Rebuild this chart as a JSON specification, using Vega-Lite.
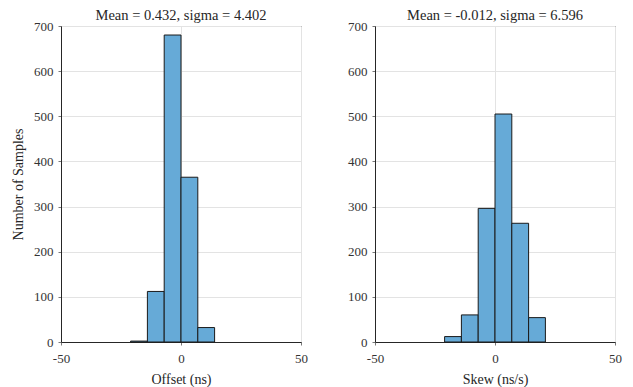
{
  "$schema": "https://vega.github.io/schema/vega-lite/v6.json",
  "background": "white",
  "padding": {"left": 11, "top": 7, "right": 5, "bottom": 5},
  "datasets": {
    "offset": [
      {"start": -21, "end": -14, "count": 2},
      {"start": -14, "end": -7, "count": 112},
      {"start": -7, "end": 0, "count": 680},
      {"start": 0, "end": 7, "count": 365},
      {"start": 7, "end": 14, "count": 32}
    ],
    "skew": [
      {"start": -21, "end": -14, "count": 12},
      {"start": -14, "end": -7, "count": 60},
      {"start": -7, "end": 0, "count": 296},
      {"start": 0, "end": 7, "count": 505},
      {"start": 7, "end": 14, "count": 263},
      {"start": 14, "end": 21, "count": 54}
    ]
  },
  "config": {
    "font": "Liberation Serif",
    "view": {"stroke": "#262626", "strokeWidth": 1},
    "title": {"font": "Liberation Serif", "fontSize": 14.5, "fontWeight": "normal", "color": "#262626", "offset": -3},
    "axis": {
      "labelFont": "Liberation Serif", "labelFontSize": 13, "labelColor": "#333333", "labelFlush": false,
      "titleFont": "Liberation Serif", "titleFontSize": 14, "titleFontWeight": "normal", "titleColor": "#262626",
      "domainColor": "#262626", "tickColor": "#777777", "tickSize": 3,
      "gridColor": "#e3e3e3", "gridWidth": 1,
      "labelExpr": "replace(datum.label, '\u2212', '-')"
    }
  },
  "hconcat": [
    {
      "data": {"name": "offset"},
      "width": 240, "height": 316,
      "title": "Mean = 0.432, sigma = 4.402",
      "mark": {"type": "bar", "color": "#66aad7", "stroke": "#1a1a1a", "strokeWidth": 1},
      "encoding": {
        "x": {"field": "start", "type": "quantitative", "scale": {"domain": [-50, 50], "nice": false},
              "axis": {"values": [-50, 0, 50], "title": "Offset (ns)", "labelFont": "Liberation Serif", "titleFont": "Liberation Serif", "labelPadding": 7, "titlePadding": 7}},
        "x2": {"field": "end"},
        "y": {"field": "count", "type": "quantitative", "scale": {"domain": [0, 700], "nice": false},
              "axis": {"values": [0, 100, 200, 300, 400, 500, 600, 700], "title": "Number of Samples", "labelFont": "Liberation Serif", "titleFont": "Liberation Serif", "labelPadding": 5, "titlePadding": 8}},
        "y2": {"datum": 0}
      }
    },
    {
      "data": {"name": "skew"},
      "width": 240, "height": 316,
      "title": "Mean = -0.012, sigma = 6.596",
      "mark": {"type": "bar", "color": "#66aad7", "stroke": "#1a1a1a", "strokeWidth": 1},
      "encoding": {
        "x": {"field": "start", "type": "quantitative", "scale": {"domain": [-50, 50], "nice": false},
              "axis": {"values": [-50, 0, 50], "title": "Skew (ns/s)", "labelFont": "Liberation Serif", "titleFont": "Liberation Serif", "labelPadding": 7, "titlePadding": 7}},
        "x2": {"field": "end"},
        "y": {"field": "count", "type": "quantitative", "scale": {"domain": [0, 700], "nice": false},
              "axis": {"values": [0, 100, 200, 300, 400, 500, 600, 700], "title": null, "labelFont": "Liberation Serif", "labelPadding": 5}},
        "y2": {"datum": 0}
      }
    }
  ],
  "spacing": 74,
  "bounds": "flush"
}
